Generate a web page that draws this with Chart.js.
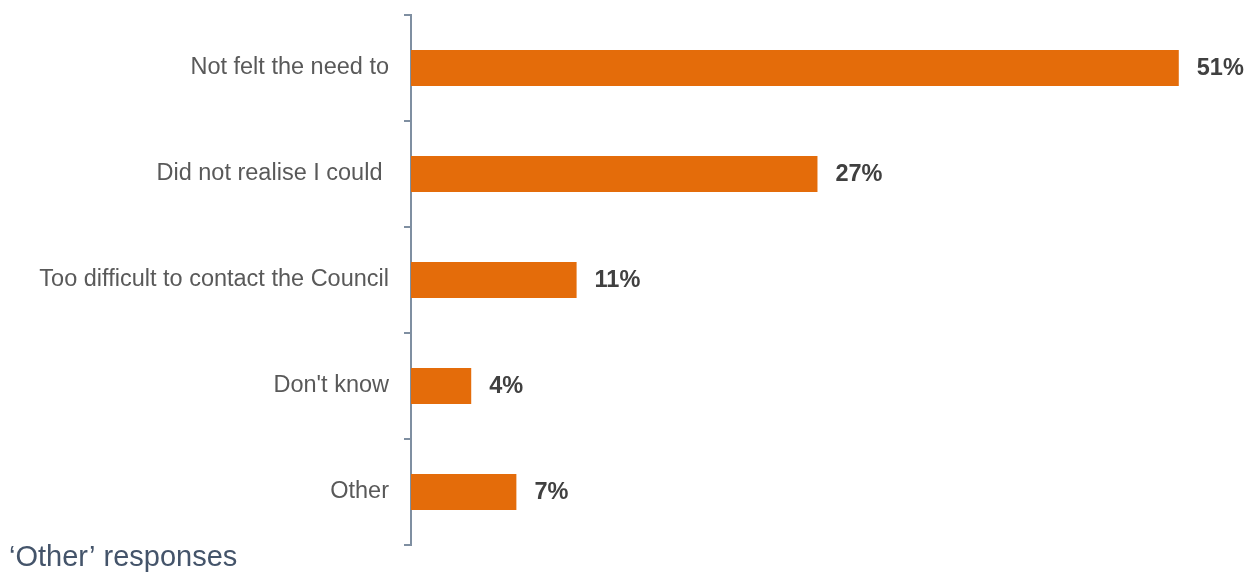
<!DOCTYPE html>
<html>
<head>
<meta charset="utf-8">
<script src="https://cdn.jsdelivr.net/npm/chart.js@4/dist/chart.umd.min.js"></script>
<style>
html,body{margin:0;padding:0;background:#fff;}
#wrap{position:relative;width:1249px;height:577px;}
</style>
</head>
<body>
<div id="wrap"><canvas id="c" width="1249" height="577"></canvas></div>
<script>
const categories = ["Not felt the need to", "Did not realise I could ", "Too difficult to contact the Council", "Don't know", "Other"];
const values = [51, 27, 11, 4, 7];
const valueLabels = ["51%", "27%", "11%", "4%", "7%"];
const footerText = "\u2018Other\u2019 responses";

const FONT = "'Liberation Sans', Arial, sans-serif";

const valueLabelPlugin = {
  id: 'valueLabels',
  afterDatasetsDraw(chart) {
    const ctx = chart.ctx;
    const meta = chart.getDatasetMeta(0);
    ctx.save();
    ctx.font = "bold 23.5px " + FONT;
    ctx.fillStyle = "#404040";
    ctx.textAlign = "left";
    ctx.textBaseline = "middle";
    meta.data.forEach((bar, i) => {
      ctx.fillText(valueLabels[i], bar.x + 18, bar.y + 1);
    });
    ctx.restore();
  }
};

const footerPlugin = {
  id: 'footer',
  afterDraw(chart) {
    const ctx = chart.ctx;
    ctx.save();
    ctx.font = "29px " + FONT;
    ctx.fillStyle = "#44546A";
    ctx.textAlign = "left";
    ctx.textBaseline = "alphabetic";
    ctx.fillText(footerText, 9, 566);
    ctx.restore();
  }
};

new Chart(document.getElementById('c'), {
  type: 'bar',
  data: {
    labels: categories,
    datasets: [{
      data: values,
      backgroundColor: "#E46C0A",
      borderWidth: 0,
      categoryPercentage: 1,
      barPercentage: 0.34
    }]
  },
  options: {
    indexAxis: 'y',
    responsive: false,
    animation: false,
    devicePixelRatio: 1,
    layout: { padding: { top: 15, bottom: 32, left: 0, right: 10 } },
    plugins: { legend: { display: false }, tooltip: { enabled: false } },
    scales: {
      x: {
        display: false,
        min: 0,
        max: 55
      },
      y: {
        afterFit(scale) {
          scale.width = 411;
          scale.paddingTop = 0;
          scale.paddingBottom = 0;
        },
        border: { display: true, color: "#7F8FA1", width: 2 },
        grid: {
          offset: true,
          drawOnChartArea: false,
          drawTicks: true,
          tickLength: 7,
          color: "#7F8FA1",
          lineWidth: 2
        },
        ticks: {
          padding: 15,
          color: "#595959",
          font: { family: FONT, size: 23.5 }
        }
      }
    }
  },
  plugins: [valueLabelPlugin, footerPlugin]
});
</script>
</body>
</html>
